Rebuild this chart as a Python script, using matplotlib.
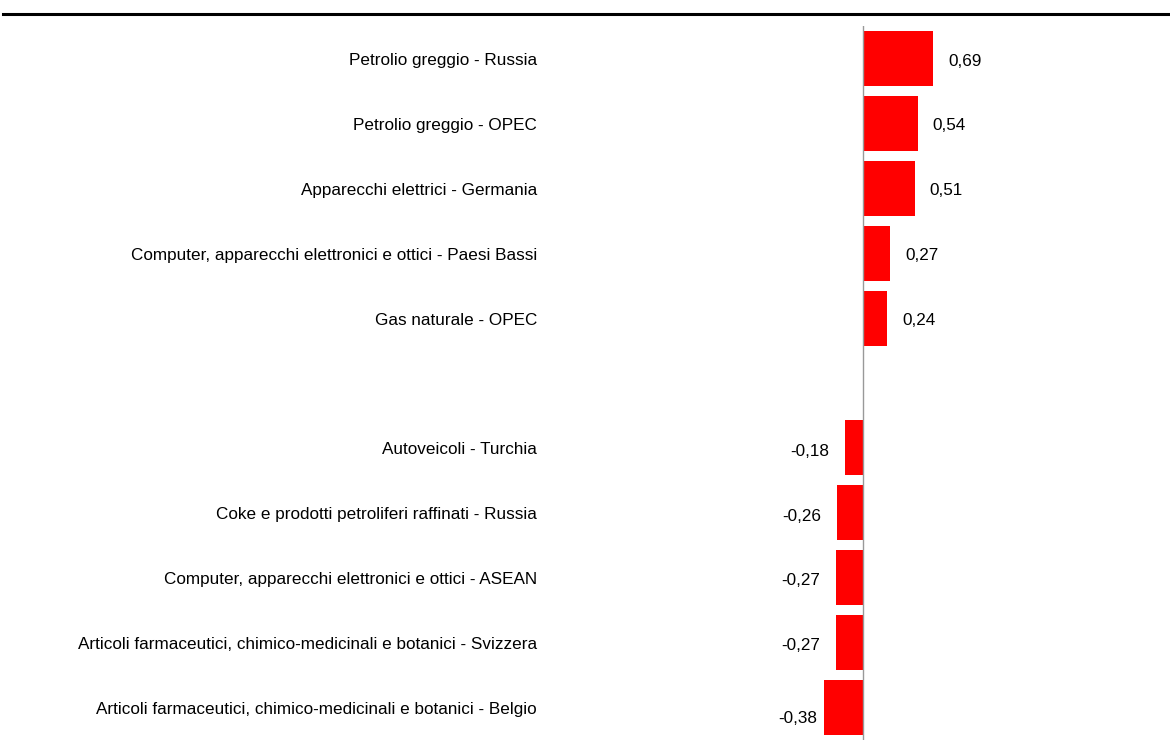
import numpy as np
import matplotlib.pyplot as plt
from matplotlib.transforms import blended_transform_factory

plt.rcParams['font.family'] = ['Liberation Sans', 'DejaVu Sans']

# categories, top to bottom (empty string = gap row)
categories = [
    'Petrolio greggio - Russia',
    'Petrolio greggio - OPEC',
    'Apparecchi elettrici - Germania',
    'Computer, apparecchi elettronici e ottici - Paesi Bassi',
    'Gas naturale - OPEC',
    '',
    'Autoveicoli - Turchia',
    'Coke e prodotti petroliferi raffinati - Russia',
    'Computer, apparecchi elettronici e ottici - ASEAN',
    'Articoli farmaceutici, chimico-medicinali e botanici - Svizzera',
    'Articoli farmaceutici, chimico-medicinali e botanici - Belgio',
]
values = [0.69, 0.54, 0.51, 0.27, 0.24, None, -0.18, -0.26, -0.27, -0.27, -0.38]

W, H = 1170, 749
fig = plt.figure(figsize=(W / 100, H / 100), dpi=100)

# axes covering the full width, rows between y=26 and y=740 px
ax = fig.add_axes([0, (H - 740) / H, 1, (740 - 26) / H])
px_per_unit = 101.5
zero_px = 863
ax.set_xlim(-zero_px / px_per_unit, (W - zero_px) / px_per_unit)
ax.set_ylim(len(categories) - 0.5, -0.5)
ax.axis('off')

ypos = np.arange(len(categories))
for y, v in zip(ypos, values):
    if v is None:
        continue
    ax.barh(y, v, height=0.85, color='#ff0000', edgecolor='none')

ax.axvline(0, color='#999999', lw=1)

fs = 12.3
lab_tr = blended_transform_factory(fig.transFigure, ax.transData)
for y, c in zip(ypos, categories):
    if c:
        ax.text(537 / W, y + 0.03, c, transform=lab_tr, ha='right', va='center',
                fontsize=fs, color='#000000')

off = 15 / px_per_unit
for y, v in zip(ypos, values):
    if v is None:
        continue
    txt = f'{v:.2f}'.replace('.', ',')
    if v >= 0:
        ax.text(v + off, y + 0.04, txt, ha='left', va='center', fontsize=fs)
    elif v < -0.3:
        ax.text(v - 7 / px_per_unit, y + 0.17, txt, ha='right', va='center', fontsize=fs)
    else:
        ax.text(v - off, y + 0.05, txt, ha='right', va='center', fontsize=fs)

# top rule
fig.add_artist(plt.Line2D([3 / W, 1], [1 - 14 / H, 1 - 14 / H], color='black', lw=2.2,
                          transform=fig.transFigure))

fig.savefig('out.png', dpi=100, facecolor='white')
